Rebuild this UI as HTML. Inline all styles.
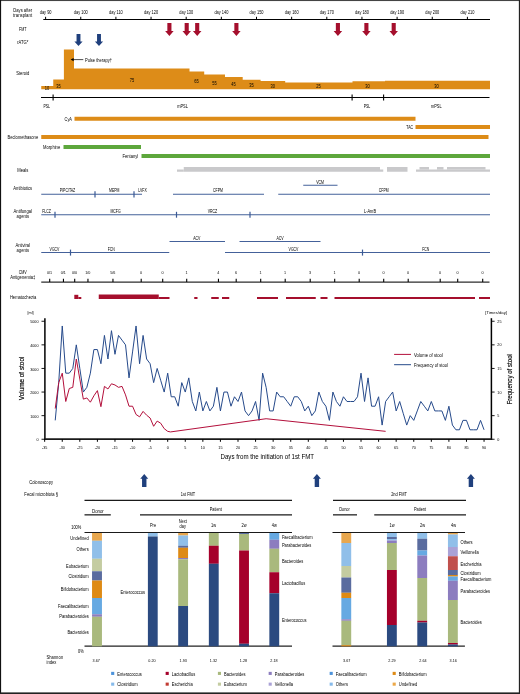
<!DOCTYPE html>
<html lang="en"><head><meta charset="utf-8"><title>Figure</title>
<style>
html,body{margin:0;padding:0;background:#fff;}
body{width:520px;height:694px;overflow:hidden;position:relative;}
svg{position:absolute;left:0;top:0;display:block;font-family:"Liberation Sans", sans-serif;}
.b{position:absolute;}
</style></head><body>
<svg width="520" height="694" viewBox="0 0 520 694">
<line x1="43.30" y1="19.50" x2="490.00" y2="19.50" stroke="#000" stroke-width="1"/>
<line x1="45.60" y1="16.80" x2="45.60" y2="19.50" stroke="#000" stroke-width="1"/>
<line x1="80.75" y1="16.80" x2="80.75" y2="19.50" stroke="#000" stroke-width="1"/>
<line x1="115.90" y1="16.80" x2="115.90" y2="19.50" stroke="#000" stroke-width="1"/>
<line x1="151.05" y1="16.80" x2="151.05" y2="19.50" stroke="#000" stroke-width="1"/>
<line x1="186.20" y1="16.80" x2="186.20" y2="19.50" stroke="#000" stroke-width="1"/>
<line x1="221.35" y1="16.80" x2="221.35" y2="19.50" stroke="#000" stroke-width="1"/>
<line x1="256.50" y1="16.80" x2="256.50" y2="19.50" stroke="#000" stroke-width="1"/>
<line x1="291.65" y1="16.80" x2="291.65" y2="19.50" stroke="#000" stroke-width="1"/>
<line x1="326.80" y1="16.80" x2="326.80" y2="19.50" stroke="#000" stroke-width="1"/>
<line x1="361.95" y1="16.80" x2="361.95" y2="19.50" stroke="#000" stroke-width="1"/>
<line x1="397.10" y1="16.80" x2="397.10" y2="19.50" stroke="#000" stroke-width="1"/>
<line x1="432.25" y1="16.80" x2="432.25" y2="19.50" stroke="#000" stroke-width="1"/>
<line x1="467.40" y1="16.80" x2="467.40" y2="19.50" stroke="#000" stroke-width="1"/>
<path d="M167.35 23.00H171.45V30.90H173.65L169.40 35.90L165.15 30.90H167.35Z" fill="#A50F2D"/>
<path d="M184.65 23.00H188.75V30.90H190.95L186.70 35.90L182.45 30.90H184.65Z" fill="#A50F2D"/>
<path d="M195.15 23.00H199.25V30.90H201.45L197.20 35.90L192.95 30.90H195.15Z" fill="#A50F2D"/>
<path d="M234.35 23.00H238.45V30.90H240.65L236.40 35.90L232.15 30.90H234.35Z" fill="#A50F2D"/>
<path d="M335.85 23.00H339.95V30.90H342.15L337.90 35.90L333.65 30.90H335.85Z" fill="#A50F2D"/>
<path d="M364.35 23.00H368.45V30.90H370.65L366.40 35.90L362.15 30.90H364.35Z" fill="#A50F2D"/>
<path d="M391.65 23.00H395.75V30.90H397.95L393.70 35.90L389.45 30.90H391.65Z" fill="#A50F2D"/>
<path d="M76.55 33.90H80.45V41.40H82.60L78.50 46.00L74.40 41.40H76.55Z" fill="#20407D"/>
<path d="M97.05 33.90H100.95V41.40H103.10L99.00 46.00L94.90 41.40H97.05Z" fill="#20407D"/>
<polygon points="41.25,89.30 41.25,86.00 53.25,86.00 53.25,79.60 63.90,79.60 63.90,49.50 74.00,49.50 74.00,68.60 189.50,68.60 189.50,71.60 204.20,71.60 204.20,74.40 225.00,74.40 225.00,77.10 242.70,77.10 242.70,79.80 260.60,79.80 260.60,81.00 285.20,81.00 285.20,82.40 352.50,82.40 352.50,81.20 385.00,81.20 385.00,80.80 490.00,80.80 490.00,89.30" fill="#DD8C18"/>
<line x1="72.50" y1="59.60" x2="83.30" y2="59.60" stroke="#000" stroke-width="0.7"/>
<path d="M70.6 59.6L73.6 58V61.2Z" fill="#000"/>
<line x1="41.00" y1="97.50" x2="489.50" y2="97.50" stroke="#000" stroke-width="1"/>
<line x1="53.10" y1="94.40" x2="53.10" y2="100.50" stroke="#000" stroke-width="1.1"/>
<line x1="352.10" y1="94.40" x2="352.10" y2="100.50" stroke="#000" stroke-width="1.1"/>
<line x1="383.60" y1="94.40" x2="383.60" y2="100.50" stroke="#000" stroke-width="1.1"/>
<rect x="74.50" y="116.75" width="341.00" height="4.00" fill="#DD8C18"/>
<rect x="415.50" y="125.00" width="74.50" height="4.00" fill="#DD8C18"/>
<rect x="41.25" y="135.00" width="447.25" height="4.00" fill="#DD8C18"/>
<rect x="63.50" y="145.00" width="77.50" height="4.00" fill="#5DA73C"/>
<rect x="141.50" y="154.00" width="348.50" height="4.00" fill="#5DA73C"/>
<rect x="177.00" y="169.50" width="6.75" height="2.25" fill="#C9C9CB"/>
<rect x="183.75" y="167.00" width="196.25" height="4.75" fill="#C9C9CB"/>
<rect x="380.00" y="169.50" width="3.25" height="2.25" fill="#C9C9CB"/>
<rect x="387.00" y="167.00" width="20.50" height="4.75" fill="#C9C9CB"/>
<rect x="416.00" y="169.50" width="74.00" height="2.25" fill="#C9C9CB"/>
<rect x="419.50" y="167.00" width="9.50" height="2.60" fill="#C9C9CB"/>
<rect x="437.00" y="167.00" width="6.50" height="2.60" fill="#C9C9CB"/>
<rect x="447.00" y="167.00" width="38.50" height="2.60" fill="#C9C9CB"/>
<line x1="41.25" y1="194.25" x2="142.00" y2="194.25" stroke="#3A5995" stroke-width="0.95"/>
<line x1="173.00" y1="194.25" x2="264.00" y2="194.25" stroke="#3A5995" stroke-width="0.95"/>
<line x1="278.25" y1="194.25" x2="490.00" y2="194.25" stroke="#3A5995" stroke-width="0.95"/>
<line x1="95.00" y1="191.30" x2="95.00" y2="197.40" stroke="#3A5995" stroke-width="1.2"/>
<line x1="134.00" y1="191.30" x2="134.00" y2="197.40" stroke="#3A5995" stroke-width="1.2"/>
<line x1="303.25" y1="185.25" x2="337.50" y2="185.25" stroke="#3A5995" stroke-width="0.95"/>
<line x1="41.25" y1="214.75" x2="490.00" y2="214.75" stroke="#3A5995" stroke-width="0.95"/>
<line x1="55.00" y1="211.80" x2="55.00" y2="217.70" stroke="#3A5995" stroke-width="1.2"/>
<line x1="176.50" y1="211.80" x2="176.50" y2="217.70" stroke="#3A5995" stroke-width="1.2"/>
<line x1="250.00" y1="211.80" x2="250.00" y2="217.70" stroke="#3A5995" stroke-width="1.2"/>
<line x1="41.25" y1="252.50" x2="169.25" y2="252.50" stroke="#3A5995" stroke-width="0.95"/>
<line x1="225.00" y1="252.50" x2="490.00" y2="252.50" stroke="#3A5995" stroke-width="0.95"/>
<line x1="169.50" y1="241.50" x2="225.00" y2="241.50" stroke="#3A5995" stroke-width="0.95"/>
<line x1="239.50" y1="241.50" x2="320.50" y2="241.50" stroke="#3A5995" stroke-width="0.95"/>
<line x1="70.50" y1="249.60" x2="70.50" y2="255.60" stroke="#3A5995" stroke-width="1.2"/>
<line x1="362.50" y1="249.60" x2="362.50" y2="255.60" stroke="#3A5995" stroke-width="1.2"/>
<line x1="41.25" y1="282.00" x2="489.50" y2="282.00" stroke="#2c2c2c" stroke-width="1.25"/>
<line x1="49.70" y1="278.70" x2="49.70" y2="282.00" stroke="#000" stroke-width="1.1"/>
<line x1="63.45" y1="278.70" x2="63.45" y2="282.00" stroke="#000" stroke-width="1.1"/>
<line x1="74.70" y1="278.70" x2="74.70" y2="282.00" stroke="#000" stroke-width="1.1"/>
<line x1="87.95" y1="278.70" x2="87.95" y2="282.00" stroke="#000" stroke-width="1.1"/>
<line x1="112.95" y1="278.70" x2="112.95" y2="282.00" stroke="#000" stroke-width="1.1"/>
<line x1="141.20" y1="278.70" x2="141.20" y2="282.00" stroke="#000" stroke-width="1.1"/>
<line x1="162.70" y1="278.70" x2="162.70" y2="282.00" stroke="#000" stroke-width="1.1"/>
<line x1="186.70" y1="278.70" x2="186.70" y2="282.00" stroke="#000" stroke-width="1.1"/>
<line x1="218.45" y1="278.70" x2="218.45" y2="282.00" stroke="#000" stroke-width="1.1"/>
<line x1="236.20" y1="278.70" x2="236.20" y2="282.00" stroke="#000" stroke-width="1.1"/>
<line x1="260.70" y1="278.70" x2="260.70" y2="282.00" stroke="#000" stroke-width="1.1"/>
<line x1="285.20" y1="278.70" x2="285.20" y2="282.00" stroke="#000" stroke-width="1.1"/>
<line x1="310.20" y1="278.70" x2="310.20" y2="282.00" stroke="#000" stroke-width="1.1"/>
<line x1="334.70" y1="278.70" x2="334.70" y2="282.00" stroke="#000" stroke-width="1.1"/>
<line x1="359.20" y1="278.70" x2="359.20" y2="282.00" stroke="#000" stroke-width="1.1"/>
<line x1="383.70" y1="278.70" x2="383.70" y2="282.00" stroke="#000" stroke-width="1.1"/>
<line x1="408.20" y1="278.70" x2="408.20" y2="282.00" stroke="#000" stroke-width="1.1"/>
<line x1="440.20" y1="278.70" x2="440.20" y2="282.00" stroke="#000" stroke-width="1.1"/>
<line x1="457.70" y1="278.70" x2="457.70" y2="282.00" stroke="#000" stroke-width="1.1"/>
<line x1="482.70" y1="278.70" x2="482.70" y2="282.00" stroke="#000" stroke-width="1.1"/>
<rect x="74.30" y="294.80" width="4.00" height="4.20" fill="#A50F2D"/>
<rect x="78.30" y="297.00" width="3.00" height="2.00" fill="#A50F2D"/>
<rect x="98.75" y="294.50" width="60.00" height="4.50" fill="#A50F2D"/>
<rect x="158.75" y="297.00" width="10.75" height="2.00" fill="#A50F2D"/>
<rect x="194.25" y="297.00" width="3.25" height="2.00" fill="#A50F2D"/>
<rect x="211.25" y="297.00" width="7.50" height="2.00" fill="#A50F2D"/>
<rect x="222.00" y="297.00" width="7.25" height="2.00" fill="#A50F2D"/>
<rect x="257.00" y="297.00" width="21.00" height="2.00" fill="#A50F2D"/>
<rect x="286.00" y="297.00" width="29.75" height="2.00" fill="#A50F2D"/>
<rect x="320.50" y="297.00" width="7.00" height="2.00" fill="#A50F2D"/>
<rect x="334.50" y="297.00" width="140.50" height="2.00" fill="#A50F2D"/>
<rect x="479.00" y="297.00" width="11.00" height="2.00" fill="#A50F2D"/>
<line x1="44.90" y1="318.20" x2="44.90" y2="439.90" stroke="#000" stroke-width="1.5"/>
<line x1="491.40" y1="318.20" x2="491.40" y2="439.90" stroke="#000" stroke-width="1.5"/>
<line x1="44.15" y1="439.05" x2="492.15" y2="439.05" stroke="#1a1a1a" stroke-width="1.75"/>
<line x1="41.50" y1="439.25" x2="44.90" y2="439.25" stroke="#000" stroke-width="0.9"/>
<line x1="41.50" y1="415.65" x2="44.90" y2="415.65" stroke="#000" stroke-width="0.9"/>
<line x1="41.50" y1="392.05" x2="44.90" y2="392.05" stroke="#000" stroke-width="0.9"/>
<line x1="41.50" y1="368.45" x2="44.90" y2="368.45" stroke="#000" stroke-width="0.9"/>
<line x1="41.50" y1="344.85" x2="44.90" y2="344.85" stroke="#000" stroke-width="0.9"/>
<line x1="41.50" y1="321.25" x2="44.90" y2="321.25" stroke="#000" stroke-width="0.9"/>
<line x1="491.40" y1="439.25" x2="494.60" y2="439.25" stroke="#000" stroke-width="0.9"/>
<line x1="491.40" y1="415.65" x2="494.60" y2="415.65" stroke="#000" stroke-width="0.9"/>
<line x1="491.40" y1="392.05" x2="494.60" y2="392.05" stroke="#000" stroke-width="0.9"/>
<line x1="491.40" y1="368.45" x2="494.60" y2="368.45" stroke="#000" stroke-width="0.9"/>
<line x1="491.40" y1="344.85" x2="494.60" y2="344.85" stroke="#000" stroke-width="0.9"/>
<line x1="491.40" y1="321.25" x2="494.60" y2="321.25" stroke="#000" stroke-width="0.9"/>
<line x1="44.67" y1="439.25" x2="44.67" y2="441.80" stroke="#000" stroke-width="1.0"/>
<line x1="62.25" y1="439.25" x2="62.25" y2="441.80" stroke="#000" stroke-width="1.0"/>
<line x1="79.82" y1="439.25" x2="79.82" y2="441.80" stroke="#000" stroke-width="1.0"/>
<line x1="97.40" y1="439.25" x2="97.40" y2="441.80" stroke="#000" stroke-width="1.0"/>
<line x1="114.97" y1="439.25" x2="114.97" y2="441.80" stroke="#000" stroke-width="1.0"/>
<line x1="132.55" y1="439.25" x2="132.55" y2="441.80" stroke="#000" stroke-width="1.0"/>
<line x1="150.12" y1="439.25" x2="150.12" y2="441.80" stroke="#000" stroke-width="1.0"/>
<line x1="167.70" y1="439.25" x2="167.70" y2="441.80" stroke="#000" stroke-width="1.0"/>
<line x1="185.27" y1="439.25" x2="185.27" y2="441.80" stroke="#000" stroke-width="1.0"/>
<line x1="202.85" y1="439.25" x2="202.85" y2="441.80" stroke="#000" stroke-width="1.0"/>
<line x1="220.42" y1="439.25" x2="220.42" y2="441.80" stroke="#000" stroke-width="1.0"/>
<line x1="238.00" y1="439.25" x2="238.00" y2="441.80" stroke="#000" stroke-width="1.0"/>
<line x1="255.57" y1="439.25" x2="255.57" y2="441.80" stroke="#000" stroke-width="1.0"/>
<line x1="273.15" y1="439.25" x2="273.15" y2="441.80" stroke="#000" stroke-width="1.0"/>
<line x1="290.73" y1="439.25" x2="290.73" y2="441.80" stroke="#000" stroke-width="1.0"/>
<line x1="308.30" y1="439.25" x2="308.30" y2="441.80" stroke="#000" stroke-width="1.0"/>
<line x1="325.88" y1="439.25" x2="325.88" y2="441.80" stroke="#000" stroke-width="1.0"/>
<line x1="343.45" y1="439.25" x2="343.45" y2="441.80" stroke="#000" stroke-width="1.0"/>
<line x1="361.02" y1="439.25" x2="361.02" y2="441.80" stroke="#000" stroke-width="1.0"/>
<line x1="378.60" y1="439.25" x2="378.60" y2="441.80" stroke="#000" stroke-width="1.0"/>
<line x1="396.17" y1="439.25" x2="396.17" y2="441.80" stroke="#000" stroke-width="1.0"/>
<line x1="413.75" y1="439.25" x2="413.75" y2="441.80" stroke="#000" stroke-width="1.0"/>
<line x1="431.32" y1="439.25" x2="431.32" y2="441.80" stroke="#000" stroke-width="1.0"/>
<line x1="448.90" y1="439.25" x2="448.90" y2="441.80" stroke="#000" stroke-width="1.0"/>
<line x1="466.48" y1="439.25" x2="466.48" y2="441.80" stroke="#000" stroke-width="1.0"/>
<line x1="484.05" y1="439.25" x2="484.05" y2="441.80" stroke="#000" stroke-width="1.0"/>
<polyline points="55.22,420.37 58.73,382.61 62.25,325.97 65.76,373.17 69.28,373.17 72.79,368.45 76.31,344.85 79.82,368.45 83.34,392.05 86.85,387.33 90.37,373.17 93.88,349.57 97.40,349.57 100.91,363.73 104.43,335.41 107.94,359.01 111.46,330.69 114.97,354.29 118.49,335.41 122.00,340.13 125.52,344.85 129.03,377.89 132.55,351.93 136.06,325.97 139.58,363.73 143.09,335.41 146.61,359.01 150.12,363.73 153.64,382.61 157.16,368.45 160.67,380.25 164.19,392.05 167.70,373.17 171.21,396.77 174.73,396.77 178.24,406.21 181.76,382.61 185.27,392.05 188.79,377.89 192.30,401.49 195.82,410.93 199.33,392.05 202.85,410.93 206.36,401.49 209.88,410.93 213.39,406.21 216.91,387.33 220.42,410.93 223.94,392.05 227.45,392.05 230.97,406.21 234.48,396.77 238.00,401.49 241.51,392.05 245.03,410.93 248.54,415.65 252.06,410.93 255.57,401.49 259.09,420.37 262.61,373.17 266.12,387.33 269.63,410.93 273.15,410.93 276.66,392.05 280.18,396.77 283.69,396.77 287.21,401.49 290.73,406.21 294.24,396.77 297.75,396.77 301.27,401.49 304.78,410.93 308.30,406.21 311.81,415.65 315.33,410.93 318.85,392.05 322.36,401.49 325.88,406.21 329.39,420.37 332.90,392.05 336.42,401.49 339.94,406.21 343.45,396.77 346.97,401.49 350.48,401.49 354.00,401.49 357.51,396.77 361.02,373.17 364.54,401.49 368.06,377.89 371.57,406.21 375.09,406.21 378.60,396.77 382.12,425.09 385.63,401.49 389.14,396.77 392.66,392.05 396.17,410.93 399.69,401.49 403.20,413.29 406.72,425.09 410.24,415.65 413.75,420.37 417.26,410.93 420.78,401.49 424.30,406.21 427.81,410.93 431.32,401.49 434.84,410.93 438.36,410.93 441.87,410.93 445.38,420.37 448.90,406.21 452.42,425.09 455.93,429.81 459.44,429.81 462.96,420.37 466.48,420.37 469.99,429.81 473.50,429.81 477.02,429.81 480.54,420.37 484.05,429.81" fill="none" stroke="#264A8B" stroke-width="1.0" stroke-linejoin="miter" stroke-miterlimit="8"/>
<polyline points="55.22,408.57 58.73,382.61 62.25,373.17 65.76,401.49 69.28,388.51 72.79,387.33 76.31,359.01 79.82,379.07 83.34,399.13 86.85,397.95 90.37,402.20 93.88,395.83 97.40,390.63 100.91,406.68 104.43,386.39 107.94,388.98 111.46,383.79 114.97,384.97 118.49,387.33 122.00,386.39 125.52,394.88 129.03,406.21 132.55,406.21 136.06,414.47 139.58,416.83 143.09,411.40 146.61,415.18 150.12,418.01 153.64,426.27 157.16,421.08 160.67,423.20 164.19,428.63 167.70,431.34 170.51,431.93 266.12,418.72 385.63,431.34" fill="none" stroke="#B30F3B" stroke-width="1.0" stroke-linejoin="miter" stroke-miterlimit="8"/>
<line x1="394.10" y1="354.40" x2="411.00" y2="354.40" stroke="#B30F3B" stroke-width="1.0"/>
<line x1="394.10" y1="364.70" x2="411.00" y2="364.70" stroke="#264A8B" stroke-width="1.0"/>
<path d="M142.05 486.90H146.45V478.70H148.25L144.25 474.10L140.25 478.70H142.05Z" fill="#20407D"/>
<path d="M314.70 486.90H319.10V478.70H320.90L316.90 474.10L312.90 478.70H314.70Z" fill="#20407D"/>
<path d="M468.70 486.90H473.10V478.70H474.90L470.90 474.10L466.90 478.70H468.70Z" fill="#20407D"/>
<line x1="84.50" y1="500.40" x2="292.00" y2="500.40" stroke="#1a1a1a" stroke-width="1.15"/>
<line x1="333.00" y1="500.40" x2="466.00" y2="500.40" stroke="#1a1a1a" stroke-width="1.15"/>
<line x1="84.50" y1="514.85" x2="110.80" y2="514.85" stroke="#1a1a1a" stroke-width="1.25"/>
<line x1="140.00" y1="514.85" x2="292.00" y2="514.85" stroke="#1a1a1a" stroke-width="1.25"/>
<line x1="333.00" y1="514.85" x2="357.00" y2="514.85" stroke="#1a1a1a" stroke-width="1.25"/>
<line x1="374.25" y1="514.85" x2="466.00" y2="514.85" stroke="#1a1a1a" stroke-width="1.25"/>
<line x1="84.50" y1="646.10" x2="292.00" y2="646.10" stroke="#222" stroke-width="1.3"/>
<line x1="332.50" y1="646.10" x2="464.90" y2="646.10" stroke="#222" stroke-width="1.3"/>
<rect x="92.05" y="532.90" width="9.90" height="7.90" fill="#E8A74E"/>
<rect x="92.05" y="540.75" width="9.90" height="18.05" fill="#90BFE9"/>
<rect x="92.05" y="558.75" width="9.90" height="12.55" fill="#C4CCA1"/>
<rect x="92.05" y="571.25" width="9.90" height="9.30" fill="#5A6C9F"/>
<rect x="92.05" y="580.50" width="9.90" height="17.55" fill="#DE8A14"/>
<rect x="92.05" y="598.00" width="9.90" height="16.30" fill="#66A9E2"/>
<rect x="92.05" y="614.25" width="9.90" height="2.55" fill="#8C7DBF"/>
<rect x="92.05" y="616.75" width="9.90" height="29.55" fill="#A9B97D"/>
<rect x="147.90" y="532.90" width="9.80" height="3.65" fill="#90BFE9"/>
<rect x="147.90" y="536.50" width="9.80" height="109.80" fill="#2B4A80"/>
<rect x="178.20" y="532.90" width="9.85" height="2.65" fill="#E8A74E"/>
<rect x="178.20" y="535.50" width="9.85" height="10.30" fill="#90BFE9"/>
<rect x="178.20" y="545.75" width="9.85" height="2.05" fill="#5A6C9F"/>
<rect x="178.20" y="547.75" width="9.85" height="10.30" fill="#DE8A14"/>
<rect x="178.20" y="558.00" width="9.85" height="1.30" fill="#8C7DBF"/>
<rect x="178.20" y="559.25" width="9.85" height="46.80" fill="#A9B97D"/>
<rect x="178.20" y="606.00" width="9.85" height="40.30" fill="#2B4A80"/>
<rect x="208.85" y="532.90" width="9.85" height="12.90" fill="#A9B97D"/>
<rect x="208.85" y="545.75" width="9.85" height="18.05" fill="#A5002B"/>
<rect x="208.85" y="563.75" width="9.85" height="82.55" fill="#2B4A80"/>
<rect x="239.10" y="532.90" width="9.85" height="1.15" fill="#5A6C9F"/>
<rect x="239.10" y="534.00" width="9.85" height="16.55" fill="#A9B97D"/>
<rect x="239.10" y="550.50" width="9.85" height="93.30" fill="#A5002B"/>
<rect x="239.10" y="643.75" width="9.85" height="2.55" fill="#2B4A80"/>
<rect x="269.35" y="532.90" width="9.85" height="6.90" fill="#66A9E2"/>
<rect x="269.35" y="539.75" width="9.85" height="9.05" fill="#8C7DBF"/>
<rect x="269.35" y="548.75" width="9.85" height="23.55" fill="#A9B97D"/>
<rect x="269.35" y="572.25" width="9.85" height="21.05" fill="#A5002B"/>
<rect x="269.35" y="593.25" width="9.85" height="53.05" fill="#2B4A80"/>
<rect x="341.35" y="532.90" width="9.85" height="10.15" fill="#E8A74E"/>
<rect x="341.35" y="543.00" width="9.85" height="23.05" fill="#90BFE9"/>
<rect x="341.35" y="566.00" width="9.85" height="11.55" fill="#C4CCA1"/>
<rect x="341.35" y="577.50" width="9.85" height="15.30" fill="#5A6C9F"/>
<rect x="341.35" y="592.75" width="9.85" height="5.30" fill="#DE8A14"/>
<rect x="341.35" y="598.00" width="9.85" height="21.30" fill="#66A9E2"/>
<rect x="341.35" y="619.25" width="9.85" height="1.55" fill="#8C7DBF"/>
<rect x="341.35" y="620.75" width="9.85" height="24.50" fill="#A9B97D"/>
<rect x="341.35" y="645.20" width="9.85" height="1.10" fill="#DE8A14"/>
<rect x="386.95" y="532.90" width="9.85" height="4.15" fill="#90BFE9"/>
<rect x="386.95" y="537.00" width="9.85" height="2.05" fill="#5A6C9F"/>
<rect x="386.95" y="539.00" width="9.85" height="1.55" fill="#90BFE9"/>
<rect x="386.95" y="540.50" width="9.85" height="2.55" fill="#8C7DBF"/>
<rect x="386.95" y="543.00" width="9.85" height="27.05" fill="#A9B97D"/>
<rect x="386.95" y="570.00" width="9.85" height="55.05" fill="#A5002B"/>
<rect x="386.95" y="625.00" width="9.85" height="21.30" fill="#2B4A80"/>
<rect x="417.30" y="532.90" width="9.85" height="5.90" fill="#90BFE9"/>
<rect x="417.30" y="538.75" width="9.85" height="11.80" fill="#5A6C9F"/>
<rect x="417.30" y="550.50" width="9.85" height="5.05" fill="#66A9E2"/>
<rect x="417.30" y="555.50" width="9.85" height="22.55" fill="#8C7DBF"/>
<rect x="417.30" y="578.00" width="9.85" height="42.80" fill="#A9B97D"/>
<rect x="417.30" y="620.75" width="9.85" height="1.80" fill="#A5002B"/>
<rect x="417.30" y="622.50" width="9.85" height="23.80" fill="#2B4A80"/>
<rect x="447.95" y="532.90" width="9.85" height="1.65" fill="#E8A74E"/>
<rect x="447.95" y="534.50" width="9.85" height="12.55" fill="#90BFE9"/>
<rect x="447.95" y="547.00" width="9.85" height="9.30" fill="#AAA2D6"/>
<rect x="447.95" y="556.25" width="9.85" height="13.80" fill="#C0504D"/>
<rect x="447.95" y="570.00" width="9.85" height="5.05" fill="#5A6C9F"/>
<rect x="447.95" y="575.00" width="9.85" height="1.55" fill="#DE8A14"/>
<rect x="447.95" y="576.50" width="9.85" height="4.30" fill="#66A9E2"/>
<rect x="447.95" y="580.75" width="9.85" height="19.30" fill="#8C7DBF"/>
<rect x="447.95" y="600.00" width="9.85" height="43.05" fill="#A9B97D"/>
<rect x="447.95" y="643.00" width="9.85" height="1.55" fill="#A5002B"/>
<rect x="447.95" y="644.50" width="9.85" height="1.80" fill="#2B4A80"/>
<line x1="84.50" y1="532.50" x2="292.00" y2="532.50" stroke="#1a1a1a" stroke-width="1.15"/>
<line x1="332.50" y1="532.50" x2="465.00" y2="532.50" stroke="#1a1a1a" stroke-width="1.15"/>
<rect x="111.15" y="671.85" width="3.10" height="3.10" fill="#4C93DB"/>
<rect x="111.15" y="682.60" width="3.10" height="3.10" fill="#86BAEA"/>
<rect x="165.65" y="671.85" width="3.10" height="3.10" fill="#A5002B"/>
<rect x="165.65" y="682.60" width="3.10" height="3.10" fill="#C23B32"/>
<rect x="217.90" y="671.85" width="3.10" height="3.10" fill="#A9B97D"/>
<rect x="217.90" y="682.60" width="3.10" height="3.10" fill="#C4CCA1"/>
<rect x="268.65" y="671.85" width="3.10" height="3.10" fill="#8C7DBF"/>
<rect x="268.65" y="682.60" width="3.10" height="3.10" fill="#AAA2D6"/>
<rect x="329.65" y="671.85" width="3.10" height="3.10" fill="#4C93DB"/>
<rect x="329.65" y="682.60" width="3.10" height="3.10" fill="#86BAEA"/>
<rect x="392.65" y="671.85" width="3.10" height="3.10" fill="#DE8A14"/>
<rect x="392.65" y="682.60" width="3.10" height="3.10" fill="#ECA848"/>
<rect x="0.00" y="0.00" width="520.00" height="1.05" fill="#444"/>
<rect x="0.00" y="0.00" width="1.10" height="694.00" fill="#111"/>
<rect x="518.85" y="0.00" width="1.15" height="694.00" fill="#222"/>
<rect x="0.00" y="692.40" width="520.00" height="1.60" fill="#222"/>
<g>
<text transform="translate(22.70 11.85) scale(0.88 1)" font-size="4.70" text-anchor="middle" fill="#000" stroke="#000" stroke-width="0">Days after</text>
<text transform="translate(22.60 16.75) scale(0.88 1)" font-size="4.70" text-anchor="middle" fill="#000" stroke="#000" stroke-width="0" textLength="21.59" lengthAdjust="spacingAndGlyphs">transplant</text>
<text transform="translate(45.65 14.37) scale(0.88 1)" font-size="4.48" text-anchor="middle" fill="#000" stroke="#000" stroke-width="0">day 90</text>
<text transform="translate(80.80 14.37) scale(0.88 1)" font-size="4.48" text-anchor="middle" fill="#000" stroke="#000" stroke-width="0">day 100</text>
<text transform="translate(115.95 14.37) scale(0.88 1)" font-size="4.48" text-anchor="middle" fill="#000" stroke="#000" stroke-width="0">day 110</text>
<text transform="translate(151.10 14.37) scale(0.88 1)" font-size="4.48" text-anchor="middle" fill="#000" stroke="#000" stroke-width="0">day 120</text>
<text transform="translate(186.25 14.37) scale(0.88 1)" font-size="4.48" text-anchor="middle" fill="#000" stroke="#000" stroke-width="0">day 130</text>
<text transform="translate(221.40 14.37) scale(0.88 1)" font-size="4.48" text-anchor="middle" fill="#000" stroke="#000" stroke-width="0">day 140</text>
<text transform="translate(256.55 14.37) scale(0.88 1)" font-size="4.48" text-anchor="middle" fill="#000" stroke="#000" stroke-width="0">day 150</text>
<text transform="translate(291.70 14.37) scale(0.88 1)" font-size="4.48" text-anchor="middle" fill="#000" stroke="#000" stroke-width="0">day 160</text>
<text transform="translate(326.85 14.37) scale(0.88 1)" font-size="4.48" text-anchor="middle" fill="#000" stroke="#000" stroke-width="0">day 170</text>
<text transform="translate(362.00 14.37) scale(0.88 1)" font-size="4.48" text-anchor="middle" fill="#000" stroke="#000" stroke-width="0">day 180</text>
<text transform="translate(397.15 14.37) scale(0.88 1)" font-size="4.48" text-anchor="middle" fill="#000" stroke="#000" stroke-width="0">day 190</text>
<text transform="translate(432.30 14.37) scale(0.88 1)" font-size="4.48" text-anchor="middle" fill="#000" stroke="#000" stroke-width="0">day 200</text>
<text transform="translate(467.45 14.37) scale(0.88 1)" font-size="4.48" text-anchor="middle" fill="#000" stroke="#000" stroke-width="0">day 210</text>
<text transform="translate(22.75 31.35) scale(0.78 1)" font-size="4.70" text-anchor="middle" fill="#000" stroke="#000" stroke-width="0">FMT</text>
<text transform="translate(22.75 44.35) scale(0.88 1)" font-size="4.70" text-anchor="middle" fill="#000" stroke="#000" stroke-width="0">rATG*</text>
<text transform="translate(22.75 75.35) scale(0.88 1)" font-size="4.70" text-anchor="middle" fill="#000" stroke="#000" stroke-width="0">Steroid</text>
<text transform="translate(47.00 90.01) scale(0.88 1)" font-size="4.59" text-anchor="middle" fill="#000" stroke="#000" stroke-width="0">10</text>
<text transform="translate(58.50 87.51) scale(0.88 1)" font-size="4.59" text-anchor="middle" fill="#000" stroke="#000" stroke-width="0">35</text>
<text transform="translate(132.00 82.21) scale(0.88 1)" font-size="4.59" text-anchor="middle" fill="#000" stroke="#000" stroke-width="0">75</text>
<text transform="translate(196.50 83.21) scale(0.88 1)" font-size="4.59" text-anchor="middle" fill="#000" stroke="#000" stroke-width="0">65</text>
<text transform="translate(214.40 84.51) scale(0.88 1)" font-size="4.59" text-anchor="middle" fill="#000" stroke="#000" stroke-width="0">55</text>
<text transform="translate(233.60 86.21) scale(0.88 1)" font-size="4.59" text-anchor="middle" fill="#000" stroke="#000" stroke-width="0">45</text>
<text transform="translate(251.50 87.21) scale(0.88 1)" font-size="4.59" text-anchor="middle" fill="#000" stroke="#000" stroke-width="0">35</text>
<text transform="translate(272.70 87.81) scale(0.88 1)" font-size="4.59" text-anchor="middle" fill="#000" stroke="#000" stroke-width="0">30</text>
<text transform="translate(318.50 88.41) scale(0.88 1)" font-size="4.59" text-anchor="middle" fill="#000" stroke="#000" stroke-width="0">25</text>
<text transform="translate(367.50 87.81) scale(0.88 1)" font-size="4.59" text-anchor="middle" fill="#000" stroke="#000" stroke-width="0">30</text>
<text transform="translate(436.50 87.81) scale(0.88 1)" font-size="4.59" text-anchor="middle" fill="#000" stroke="#000" stroke-width="0">30</text>
<text transform="translate(85.00 62.07) scale(0.88 1)" font-size="4.48" text-anchor="start" fill="#000" stroke="#000" stroke-width="0" textLength="30.68" lengthAdjust="spacingAndGlyphs">Pulse therapy†</text>
<text transform="translate(46.75 107.87) scale(0.78 1)" font-size="4.48" text-anchor="middle" fill="#000" stroke="#000" stroke-width="0">PSL</text>
<text transform="translate(182.50 107.87) scale(0.88 1)" font-size="4.48" text-anchor="middle" fill="#000" stroke="#000" stroke-width="0">mPSL</text>
<text transform="translate(367.00 107.87) scale(0.78 1)" font-size="4.48" text-anchor="middle" fill="#000" stroke="#000" stroke-width="0">PSL</text>
<text transform="translate(436.25 107.87) scale(0.88 1)" font-size="4.48" text-anchor="middle" fill="#000" stroke="#000" stroke-width="0">mPSL</text>
<text transform="translate(72.00 120.92) scale(0.88 1)" font-size="4.48" text-anchor="end" fill="#000" stroke="#000" stroke-width="0">CyA</text>
<text transform="translate(413.00 129.17) scale(0.78 1)" font-size="4.48" text-anchor="end" fill="#000" stroke="#000" stroke-width="0">TAC</text>
<text transform="translate(38.20 139.25) scale(0.88 1)" font-size="4.70" text-anchor="end" fill="#000" stroke="#000" stroke-width="0">Beclomethasone</text>
<text transform="translate(60.20 149.25) scale(0.88 1)" font-size="4.70" text-anchor="end" fill="#000" stroke="#000" stroke-width="0">Morphine</text>
<text transform="translate(138.20 158.25) scale(0.88 1)" font-size="4.70" text-anchor="end" fill="#000" stroke="#000" stroke-width="0">Fentanyl</text>
<text transform="translate(22.75 172.00) scale(0.88 1)" font-size="4.70" text-anchor="middle" fill="#000" stroke="#000" stroke-width="0">Meals</text>
<text transform="translate(22.75 189.65) scale(0.88 1)" font-size="4.70" text-anchor="middle" fill="#000" stroke="#000" stroke-width="0">Antibiotics</text>
<text transform="translate(67.50 191.67) scale(0.78 1)" font-size="4.48" text-anchor="middle" fill="#000" stroke="#000" stroke-width="0">PIPC/TAZ</text>
<text transform="translate(114.25 191.67) scale(0.78 1)" font-size="4.48" text-anchor="middle" fill="#000" stroke="#000" stroke-width="0">MEPM</text>
<text transform="translate(142.50 191.67) scale(0.78 1)" font-size="4.48" text-anchor="middle" fill="#000" stroke="#000" stroke-width="0">LVFX</text>
<text transform="translate(218.00 192.17) scale(0.78 1)" font-size="4.48" text-anchor="middle" fill="#000" stroke="#000" stroke-width="0">CFPM</text>
<text transform="translate(383.75 192.17) scale(0.78 1)" font-size="4.48" text-anchor="middle" fill="#000" stroke="#000" stroke-width="0">CFPM</text>
<text transform="translate(320.00 183.67) scale(0.78 1)" font-size="4.48" text-anchor="middle" fill="#000" stroke="#000" stroke-width="0">VCM</text>
<text transform="translate(22.75 213.00) scale(0.88 1)" font-size="4.70" text-anchor="middle" fill="#000" stroke="#000" stroke-width="0">Antifungal</text>
<text transform="translate(22.75 217.85) scale(0.88 1)" font-size="4.70" text-anchor="middle" fill="#000" stroke="#000" stroke-width="0">agents</text>
<text transform="translate(46.50 212.92) scale(0.78 1)" font-size="4.48" text-anchor="middle" fill="#000" stroke="#000" stroke-width="0">FLCZ</text>
<text transform="translate(115.50 212.92) scale(0.78 1)" font-size="4.48" text-anchor="middle" fill="#000" stroke="#000" stroke-width="0">MCFG</text>
<text transform="translate(212.50 212.67) scale(0.78 1)" font-size="4.48" text-anchor="middle" fill="#000" stroke="#000" stroke-width="0">VRCZ</text>
<text transform="translate(370.00 212.67) scale(0.88 1)" font-size="4.48" text-anchor="middle" fill="#000" stroke="#000" stroke-width="0">L-AmB</text>
<text transform="translate(22.75 247.25) scale(0.88 1)" font-size="4.70" text-anchor="middle" fill="#000" stroke="#000" stroke-width="0">Antiviral</text>
<text transform="translate(22.75 252.25) scale(0.88 1)" font-size="4.70" text-anchor="middle" fill="#000" stroke="#000" stroke-width="0">agents</text>
<text transform="translate(54.50 250.92) scale(0.78 1)" font-size="4.48" text-anchor="middle" fill="#000" stroke="#000" stroke-width="0">VGCV</text>
<text transform="translate(111.25 250.92) scale(0.78 1)" font-size="4.48" text-anchor="middle" fill="#000" stroke="#000" stroke-width="0">FCN</text>
<text transform="translate(196.75 239.67) scale(0.78 1)" font-size="4.48" text-anchor="middle" fill="#000" stroke="#000" stroke-width="0">ACV</text>
<text transform="translate(280.00 239.67) scale(0.78 1)" font-size="4.48" text-anchor="middle" fill="#000" stroke="#000" stroke-width="0">ACV</text>
<text transform="translate(293.50 250.92) scale(0.78 1)" font-size="4.48" text-anchor="middle" fill="#000" stroke="#000" stroke-width="0">VGCV</text>
<text transform="translate(425.75 250.92) scale(0.78 1)" font-size="4.48" text-anchor="middle" fill="#000" stroke="#000" stroke-width="0">FCN</text>
<text transform="translate(22.75 273.75) scale(0.78 1)" font-size="4.70" text-anchor="middle" fill="#000" stroke="#000" stroke-width="0">CMV</text>
<text transform="translate(22.75 279.25) scale(0.88 1)" font-size="4.70" text-anchor="middle" fill="#000" stroke="#000" stroke-width="0">Antigenemia‡</text>
<text transform="translate(49.50 273.89) scale(0.88 1)" font-size="4.26" text-anchor="middle" fill="#000" stroke="#000" stroke-width="0">0/1</text>
<text transform="translate(63.25 273.89) scale(0.88 1)" font-size="4.26" text-anchor="middle" fill="#000" stroke="#000" stroke-width="0">0/1</text>
<text transform="translate(74.50 273.89) scale(0.88 1)" font-size="4.26" text-anchor="middle" fill="#000" stroke="#000" stroke-width="0">0/0</text>
<text transform="translate(87.75 273.89) scale(0.88 1)" font-size="4.26" text-anchor="middle" fill="#000" stroke="#000" stroke-width="0">1/0</text>
<text transform="translate(112.75 273.89) scale(0.88 1)" font-size="4.26" text-anchor="middle" fill="#000" stroke="#000" stroke-width="0">5/6</text>
<text transform="translate(141.00 273.89) scale(0.88 1)" font-size="4.26" text-anchor="middle" fill="#000" stroke="#000" stroke-width="0">0</text>
<text transform="translate(162.50 273.89) scale(0.88 1)" font-size="4.26" text-anchor="middle" fill="#000" stroke="#000" stroke-width="0">0</text>
<text transform="translate(186.50 273.89) scale(0.88 1)" font-size="4.26" text-anchor="middle" fill="#000" stroke="#000" stroke-width="0">1</text>
<text transform="translate(218.25 273.89) scale(0.88 1)" font-size="4.26" text-anchor="middle" fill="#000" stroke="#000" stroke-width="0">4</text>
<text transform="translate(236.00 273.89) scale(0.88 1)" font-size="4.26" text-anchor="middle" fill="#000" stroke="#000" stroke-width="0">6</text>
<text transform="translate(260.50 273.89) scale(0.88 1)" font-size="4.26" text-anchor="middle" fill="#000" stroke="#000" stroke-width="0">1</text>
<text transform="translate(285.00 273.89) scale(0.88 1)" font-size="4.26" text-anchor="middle" fill="#000" stroke="#000" stroke-width="0">1</text>
<text transform="translate(310.00 273.89) scale(0.88 1)" font-size="4.26" text-anchor="middle" fill="#000" stroke="#000" stroke-width="0">3</text>
<text transform="translate(334.50 273.89) scale(0.88 1)" font-size="4.26" text-anchor="middle" fill="#000" stroke="#000" stroke-width="0">1</text>
<text transform="translate(359.00 273.89) scale(0.88 1)" font-size="4.26" text-anchor="middle" fill="#000" stroke="#000" stroke-width="0">0</text>
<text transform="translate(383.50 273.89) scale(0.88 1)" font-size="4.26" text-anchor="middle" fill="#000" stroke="#000" stroke-width="0">0</text>
<text transform="translate(408.00 273.89) scale(0.88 1)" font-size="4.26" text-anchor="middle" fill="#000" stroke="#000" stroke-width="0">0</text>
<text transform="translate(440.00 273.89) scale(0.88 1)" font-size="4.26" text-anchor="middle" fill="#000" stroke="#000" stroke-width="0">0</text>
<text transform="translate(457.50 273.89) scale(0.88 1)" font-size="4.26" text-anchor="middle" fill="#000" stroke="#000" stroke-width="0">0</text>
<text transform="translate(482.50 273.89) scale(0.88 1)" font-size="4.26" text-anchor="middle" fill="#000" stroke="#000" stroke-width="0">0</text>
<text transform="translate(36.20 299.35) scale(0.88 1)" font-size="4.70" text-anchor="end" fill="#000" stroke="#000" stroke-width="0">Hematochezia</text>
<text transform="translate(30.50 313.79) scale(0.88 1)" font-size="4.26" text-anchor="middle" fill="#000" stroke="#000" stroke-width="0">[ml]</text>
<text transform="translate(496.10 313.79) scale(0.88 1)" font-size="4.26" text-anchor="middle" fill="#000" stroke="#000" stroke-width="0" textLength="24.66" lengthAdjust="spacingAndGlyphs">[Times/day]</text>
<text transform="translate(38.50 441.34) scale(0.88 1)" font-size="4.26" text-anchor="end" fill="#000" stroke="#000" stroke-width="0">0</text>
<text transform="translate(38.50 417.74) scale(0.88 1)" font-size="4.26" text-anchor="end" fill="#000" stroke="#000" stroke-width="0">1000</text>
<text transform="translate(38.50 394.14) scale(0.88 1)" font-size="4.26" text-anchor="end" fill="#000" stroke="#000" stroke-width="0">2000</text>
<text transform="translate(38.50 370.54) scale(0.88 1)" font-size="4.26" text-anchor="end" fill="#000" stroke="#000" stroke-width="0">3000</text>
<text transform="translate(38.50 346.94) scale(0.88 1)" font-size="4.26" text-anchor="end" fill="#000" stroke="#000" stroke-width="0">4000</text>
<text transform="translate(38.50 323.34) scale(0.88 1)" font-size="4.26" text-anchor="end" fill="#000" stroke="#000" stroke-width="0">5000</text>
<text transform="translate(497.30 440.89) scale(0.88 1)" font-size="4.26" text-anchor="start" fill="#000" stroke="#000" stroke-width="0">0</text>
<text transform="translate(497.30 417.29) scale(0.88 1)" font-size="4.26" text-anchor="start" fill="#000" stroke="#000" stroke-width="0">5</text>
<text transform="translate(497.30 393.69) scale(0.88 1)" font-size="4.26" text-anchor="start" fill="#000" stroke="#000" stroke-width="0">10</text>
<text transform="translate(497.30 370.09) scale(0.88 1)" font-size="4.26" text-anchor="start" fill="#000" stroke="#000" stroke-width="0">15</text>
<text transform="translate(497.30 346.49) scale(0.88 1)" font-size="4.26" text-anchor="start" fill="#000" stroke="#000" stroke-width="0">20</text>
<text transform="translate(497.30 322.89) scale(0.88 1)" font-size="4.26" text-anchor="start" fill="#000" stroke="#000" stroke-width="0">25</text>
<text transform="translate(44.67 448.99) scale(0.88 1)" font-size="4.26" text-anchor="middle" fill="#000" stroke="#000" stroke-width="0">-35</text>
<text transform="translate(62.25 448.99) scale(0.88 1)" font-size="4.26" text-anchor="middle" fill="#000" stroke="#000" stroke-width="0">-30</text>
<text transform="translate(79.82 448.99) scale(0.88 1)" font-size="4.26" text-anchor="middle" fill="#000" stroke="#000" stroke-width="0">-25</text>
<text transform="translate(97.40 448.99) scale(0.88 1)" font-size="4.26" text-anchor="middle" fill="#000" stroke="#000" stroke-width="0">-20</text>
<text transform="translate(114.97 448.99) scale(0.88 1)" font-size="4.26" text-anchor="middle" fill="#000" stroke="#000" stroke-width="0">-15</text>
<text transform="translate(132.55 448.99) scale(0.88 1)" font-size="4.26" text-anchor="middle" fill="#000" stroke="#000" stroke-width="0">-10</text>
<text transform="translate(150.12 448.99) scale(0.88 1)" font-size="4.26" text-anchor="middle" fill="#000" stroke="#000" stroke-width="0">-5</text>
<text transform="translate(167.70 448.99) scale(0.88 1)" font-size="4.26" text-anchor="middle" fill="#000" stroke="#000" stroke-width="0">0</text>
<text transform="translate(185.27 448.99) scale(0.88 1)" font-size="4.26" text-anchor="middle" fill="#000" stroke="#000" stroke-width="0">5</text>
<text transform="translate(202.85 448.99) scale(0.88 1)" font-size="4.26" text-anchor="middle" fill="#000" stroke="#000" stroke-width="0">10</text>
<text transform="translate(220.42 448.99) scale(0.88 1)" font-size="4.26" text-anchor="middle" fill="#000" stroke="#000" stroke-width="0">15</text>
<text transform="translate(238.00 448.99) scale(0.88 1)" font-size="4.26" text-anchor="middle" fill="#000" stroke="#000" stroke-width="0">20</text>
<text transform="translate(255.57 448.99) scale(0.88 1)" font-size="4.26" text-anchor="middle" fill="#000" stroke="#000" stroke-width="0">25</text>
<text transform="translate(273.15 448.99) scale(0.88 1)" font-size="4.26" text-anchor="middle" fill="#000" stroke="#000" stroke-width="0">30</text>
<text transform="translate(290.73 448.99) scale(0.88 1)" font-size="4.26" text-anchor="middle" fill="#000" stroke="#000" stroke-width="0">35</text>
<text transform="translate(308.30 448.99) scale(0.88 1)" font-size="4.26" text-anchor="middle" fill="#000" stroke="#000" stroke-width="0">40</text>
<text transform="translate(325.88 448.99) scale(0.88 1)" font-size="4.26" text-anchor="middle" fill="#000" stroke="#000" stroke-width="0">45</text>
<text transform="translate(343.45 448.99) scale(0.88 1)" font-size="4.26" text-anchor="middle" fill="#000" stroke="#000" stroke-width="0">50</text>
<text transform="translate(361.02 448.99) scale(0.88 1)" font-size="4.26" text-anchor="middle" fill="#000" stroke="#000" stroke-width="0">55</text>
<text transform="translate(378.60 448.99) scale(0.88 1)" font-size="4.26" text-anchor="middle" fill="#000" stroke="#000" stroke-width="0">60</text>
<text transform="translate(396.17 448.99) scale(0.88 1)" font-size="4.26" text-anchor="middle" fill="#000" stroke="#000" stroke-width="0">65</text>
<text transform="translate(413.75 448.99) scale(0.88 1)" font-size="4.26" text-anchor="middle" fill="#000" stroke="#000" stroke-width="0">70</text>
<text transform="translate(431.32 448.99) scale(0.88 1)" font-size="4.26" text-anchor="middle" fill="#000" stroke="#000" stroke-width="0">75</text>
<text transform="translate(448.90 448.99) scale(0.88 1)" font-size="4.26" text-anchor="middle" fill="#000" stroke="#000" stroke-width="0">80</text>
<text transform="translate(466.48 448.99) scale(0.88 1)" font-size="4.26" text-anchor="middle" fill="#000" stroke="#000" stroke-width="0">85</text>
<text transform="translate(484.05 448.99) scale(0.88 1)" font-size="4.26" text-anchor="middle" fill="#000" stroke="#000" stroke-width="0">90</text>
<text transform="translate(267.30 459.17) scale(0.88 1)" font-size="6.50" text-anchor="middle" fill="#000" stroke="#000" stroke-width="0" textLength="106.36" lengthAdjust="spacingAndGlyphs">Days from the initiation of 1st FMT</text>
<text transform="translate(24.2 378.4) rotate(-90)" font-size="6.5" text-anchor="middle" fill="#000" stroke="#000" stroke-width="0.15" textLength="43.5" lengthAdjust="spacingAndGlyphs">Volume of stool</text>
<text transform="translate(512 379.3) rotate(-90)" font-size="6.5" text-anchor="middle" fill="#000" stroke="#000" stroke-width="0.15" textLength="50.5" lengthAdjust="spacingAndGlyphs">Frequency of stool</text>
<text transform="translate(414.00 356.57) scale(0.88 1)" font-size="4.48" text-anchor="start" fill="#000" stroke="#000" stroke-width="0" textLength="32.84" lengthAdjust="spacingAndGlyphs">Volume of stool</text>
<text transform="translate(414.00 366.87) scale(0.88 1)" font-size="4.48" text-anchor="start" fill="#000" stroke="#000" stroke-width="0" textLength="38.64" lengthAdjust="spacingAndGlyphs">Frequency of stool</text>
<text transform="translate(53.00 483.50) scale(0.88 1)" font-size="4.70" text-anchor="end" fill="#000" stroke="#000" stroke-width="0">Colonoscopy</text>
<text transform="translate(58.00 495.75) scale(0.88 1)" font-size="4.70" text-anchor="end" fill="#000" stroke="#000" stroke-width="0">Fecal microbiota §</text>
<text transform="translate(188.00 496.17) scale(0.88 1)" font-size="4.48" text-anchor="middle" fill="#000" stroke="#000" stroke-width="0">1st FMT</text>
<text transform="translate(399.00 496.17) scale(0.88 1)" font-size="4.48" text-anchor="middle" fill="#000" stroke="#000" stroke-width="0">2nd FMT</text>
<text transform="translate(97.90 512.82) scale(0.88 1)" font-size="4.48" text-anchor="middle" fill="#000" stroke="#000" stroke-width="0" textLength="13.41" lengthAdjust="spacingAndGlyphs">Donor</text>
<text transform="translate(215.75 510.92) scale(0.88 1)" font-size="4.48" text-anchor="middle" fill="#000" stroke="#000" stroke-width="0">Patient</text>
<text transform="translate(344.50 510.92) scale(0.88 1)" font-size="4.48" text-anchor="middle" fill="#000" stroke="#000" stroke-width="0">Donor</text>
<text transform="translate(420.00 510.92) scale(0.88 1)" font-size="4.48" text-anchor="middle" fill="#000" stroke="#000" stroke-width="0">Patient</text>
<text transform="translate(153.00 526.67) scale(0.88 1)" font-size="4.48" text-anchor="middle" fill="#000" stroke="#000" stroke-width="0">Pre</text>
<text transform="translate(182.75 522.67) scale(0.88 1)" font-size="4.48" text-anchor="middle" fill="#000" stroke="#000" stroke-width="0">Next</text>
<text transform="translate(182.75 527.92) scale(0.88 1)" font-size="4.48" text-anchor="middle" fill="#000" stroke="#000" stroke-width="0">day</text>
<text transform="translate(213.50 526.67) scale(0.88 1)" font-size="4.48" text-anchor="middle" fill="#000" stroke="#000" stroke-width="0">1w</text>
<text transform="translate(244.00 526.67) scale(0.88 1)" font-size="4.48" text-anchor="middle" fill="#000" stroke="#000" stroke-width="0">2w</text>
<text transform="translate(274.25 526.67) scale(0.88 1)" font-size="4.48" text-anchor="middle" fill="#000" stroke="#000" stroke-width="0">4w</text>
<text transform="translate(392.00 526.67) scale(0.88 1)" font-size="4.48" text-anchor="middle" fill="#000" stroke="#000" stroke-width="0">1w</text>
<text transform="translate(422.50 526.67) scale(0.88 1)" font-size="4.48" text-anchor="middle" fill="#000" stroke="#000" stroke-width="0">2w</text>
<text transform="translate(453.50 526.67) scale(0.88 1)" font-size="4.48" text-anchor="middle" fill="#000" stroke="#000" stroke-width="0">4w</text>
<text transform="translate(81.25 529.42) scale(0.88 1)" font-size="4.48" text-anchor="end" fill="#000" stroke="#000" stroke-width="0">100%</text>
<text transform="translate(83.75 653.42) scale(0.88 1)" font-size="4.48" text-anchor="end" fill="#000" stroke="#000" stroke-width="0">0%</text>
<text transform="translate(88.75 539.72) scale(0.88 1)" font-size="4.61" text-anchor="end" fill="#000" stroke="#000" stroke-width="0">Undefined</text>
<text transform="translate(88.75 550.97) scale(0.88 1)" font-size="4.61" text-anchor="end" fill="#000" stroke="#000" stroke-width="0">Others</text>
<text transform="translate(88.75 567.72) scale(0.88 1)" font-size="4.61" text-anchor="end" fill="#000" stroke="#000" stroke-width="0">Eubacterium</text>
<text transform="translate(88.75 578.47) scale(0.88 1)" font-size="4.61" text-anchor="end" fill="#000" stroke="#000" stroke-width="0">Clostridium</text>
<text transform="translate(88.75 591.47) scale(0.88 1)" font-size="4.61" text-anchor="end" fill="#000" stroke="#000" stroke-width="0">Bifidobacterium</text>
<text transform="translate(88.75 608.47) scale(0.88 1)" font-size="4.61" text-anchor="end" fill="#000" stroke="#000" stroke-width="0">Faecalibacterium</text>
<text transform="translate(88.75 617.97) scale(0.88 1)" font-size="4.61" text-anchor="end" fill="#000" stroke="#000" stroke-width="0">Parabacteroides</text>
<text transform="translate(88.75 633.97) scale(0.88 1)" font-size="4.61" text-anchor="end" fill="#000" stroke="#000" stroke-width="0">Bacteroides</text>
<text transform="translate(120.50 594.22) scale(0.88 1)" font-size="4.61" text-anchor="start" fill="#000" stroke="#000" stroke-width="0">Enterococcus</text>
<text transform="translate(281.90 539.47) scale(0.88 1)" font-size="4.61" text-anchor="start" fill="#000" stroke="#000" stroke-width="0">Faecalibacterium</text>
<text transform="translate(281.90 546.72) scale(0.88 1)" font-size="4.61" text-anchor="start" fill="#000" stroke="#000" stroke-width="0">Parabacteroides</text>
<text transform="translate(281.90 562.97) scale(0.88 1)" font-size="4.61" text-anchor="start" fill="#000" stroke="#000" stroke-width="0">Bacteroides</text>
<text transform="translate(281.90 585.47) scale(0.88 1)" font-size="4.61" text-anchor="start" fill="#000" stroke="#000" stroke-width="0">Lactobacillus</text>
<text transform="translate(281.90 622.22) scale(0.88 1)" font-size="4.61" text-anchor="start" fill="#000" stroke="#000" stroke-width="0">Enterococcus</text>
<text transform="translate(460.50 543.72) scale(0.88 1)" font-size="4.61" text-anchor="start" fill="#000" stroke="#000" stroke-width="0">Others</text>
<text transform="translate(460.50 554.47) scale(0.88 1)" font-size="4.61" text-anchor="start" fill="#000" stroke="#000" stroke-width="0">Veillonella</text>
<text transform="translate(460.50 565.72) scale(0.88 1)" font-size="4.61" text-anchor="start" fill="#000" stroke="#000" stroke-width="0">Escherichia</text>
<text transform="translate(460.50 575.22) scale(0.88 1)" font-size="4.61" text-anchor="start" fill="#000" stroke="#000" stroke-width="0">Clostridium</text>
<text transform="translate(460.50 581.22) scale(0.88 1)" font-size="4.61" text-anchor="start" fill="#000" stroke="#000" stroke-width="0">Faecalibacterium</text>
<text transform="translate(460.50 592.97) scale(0.88 1)" font-size="4.61" text-anchor="start" fill="#000" stroke="#000" stroke-width="0">Parabacteroides</text>
<text transform="translate(460.50 624.22) scale(0.88 1)" font-size="4.61" text-anchor="start" fill="#000" stroke="#000" stroke-width="0">Bacteroides</text>
<text transform="translate(46.50 658.75) scale(0.88 1)" font-size="4.70" text-anchor="start" fill="#000" stroke="#000" stroke-width="0">Shannon</text>
<text transform="translate(46.50 664.00) scale(0.88 1)" font-size="4.70" text-anchor="start" fill="#000" stroke="#000" stroke-width="0">index</text>
<text transform="translate(96.25 662.09) scale(0.88 1)" font-size="4.26" text-anchor="middle" fill="#000" stroke="#000" stroke-width="0">3.67</text>
<text transform="translate(152.00 662.09) scale(0.88 1)" font-size="4.26" text-anchor="middle" fill="#000" stroke="#000" stroke-width="0">0.20</text>
<text transform="translate(183.25 662.09) scale(0.88 1)" font-size="4.26" text-anchor="middle" fill="#000" stroke="#000" stroke-width="0">1.93</text>
<text transform="translate(213.50 662.09) scale(0.88 1)" font-size="4.26" text-anchor="middle" fill="#000" stroke="#000" stroke-width="0">1.32</text>
<text transform="translate(243.50 662.09) scale(0.88 1)" font-size="4.26" text-anchor="middle" fill="#000" stroke="#000" stroke-width="0">1.28</text>
<text transform="translate(274.00 662.09) scale(0.88 1)" font-size="4.26" text-anchor="middle" fill="#000" stroke="#000" stroke-width="0">2.18</text>
<text transform="translate(346.75 662.09) scale(0.88 1)" font-size="4.26" text-anchor="middle" fill="#000" stroke="#000" stroke-width="0">3.67</text>
<text transform="translate(392.00 662.09) scale(0.88 1)" font-size="4.26" text-anchor="middle" fill="#000" stroke="#000" stroke-width="0">2.29</text>
<text transform="translate(423.00 662.09) scale(0.88 1)" font-size="4.26" text-anchor="middle" fill="#000" stroke="#000" stroke-width="0">2.64</text>
<text transform="translate(453.25 662.09) scale(0.88 1)" font-size="4.26" text-anchor="middle" fill="#000" stroke="#000" stroke-width="0">3.16</text>
<text transform="translate(117.35 675.57) scale(0.88 1)" font-size="4.61" text-anchor="start" fill="#000" stroke="#000" stroke-width="0">Enterococcus</text>
<text transform="translate(117.35 686.32) scale(0.88 1)" font-size="4.61" text-anchor="start" fill="#000" stroke="#000" stroke-width="0">Clostridium</text>
<text transform="translate(171.85 675.57) scale(0.88 1)" font-size="4.61" text-anchor="start" fill="#000" stroke="#000" stroke-width="0">Lactobacillus</text>
<text transform="translate(171.85 686.32) scale(0.88 1)" font-size="4.61" text-anchor="start" fill="#000" stroke="#000" stroke-width="0">Escherichia</text>
<text transform="translate(224.10 675.57) scale(0.88 1)" font-size="4.61" text-anchor="start" fill="#000" stroke="#000" stroke-width="0">Bacteroides</text>
<text transform="translate(224.10 686.32) scale(0.88 1)" font-size="4.61" text-anchor="start" fill="#000" stroke="#000" stroke-width="0">Eubacterium</text>
<text transform="translate(274.85 675.57) scale(0.88 1)" font-size="4.61" text-anchor="start" fill="#000" stroke="#000" stroke-width="0">Parabacteroides</text>
<text transform="translate(274.85 686.32) scale(0.88 1)" font-size="4.61" text-anchor="start" fill="#000" stroke="#000" stroke-width="0">Veillonella</text>
<text transform="translate(335.85 675.57) scale(0.88 1)" font-size="4.61" text-anchor="start" fill="#000" stroke="#000" stroke-width="0">Faecalibacterium</text>
<text transform="translate(335.85 686.32) scale(0.88 1)" font-size="4.61" text-anchor="start" fill="#000" stroke="#000" stroke-width="0">Others</text>
<text transform="translate(398.85 675.57) scale(0.88 1)" font-size="4.61" text-anchor="start" fill="#000" stroke="#000" stroke-width="0">Bifidobacterium</text>
<text transform="translate(398.85 686.32) scale(0.88 1)" font-size="4.61" text-anchor="start" fill="#000" stroke="#000" stroke-width="0">Undefined</text>
</g>
</svg>
</body></html>
